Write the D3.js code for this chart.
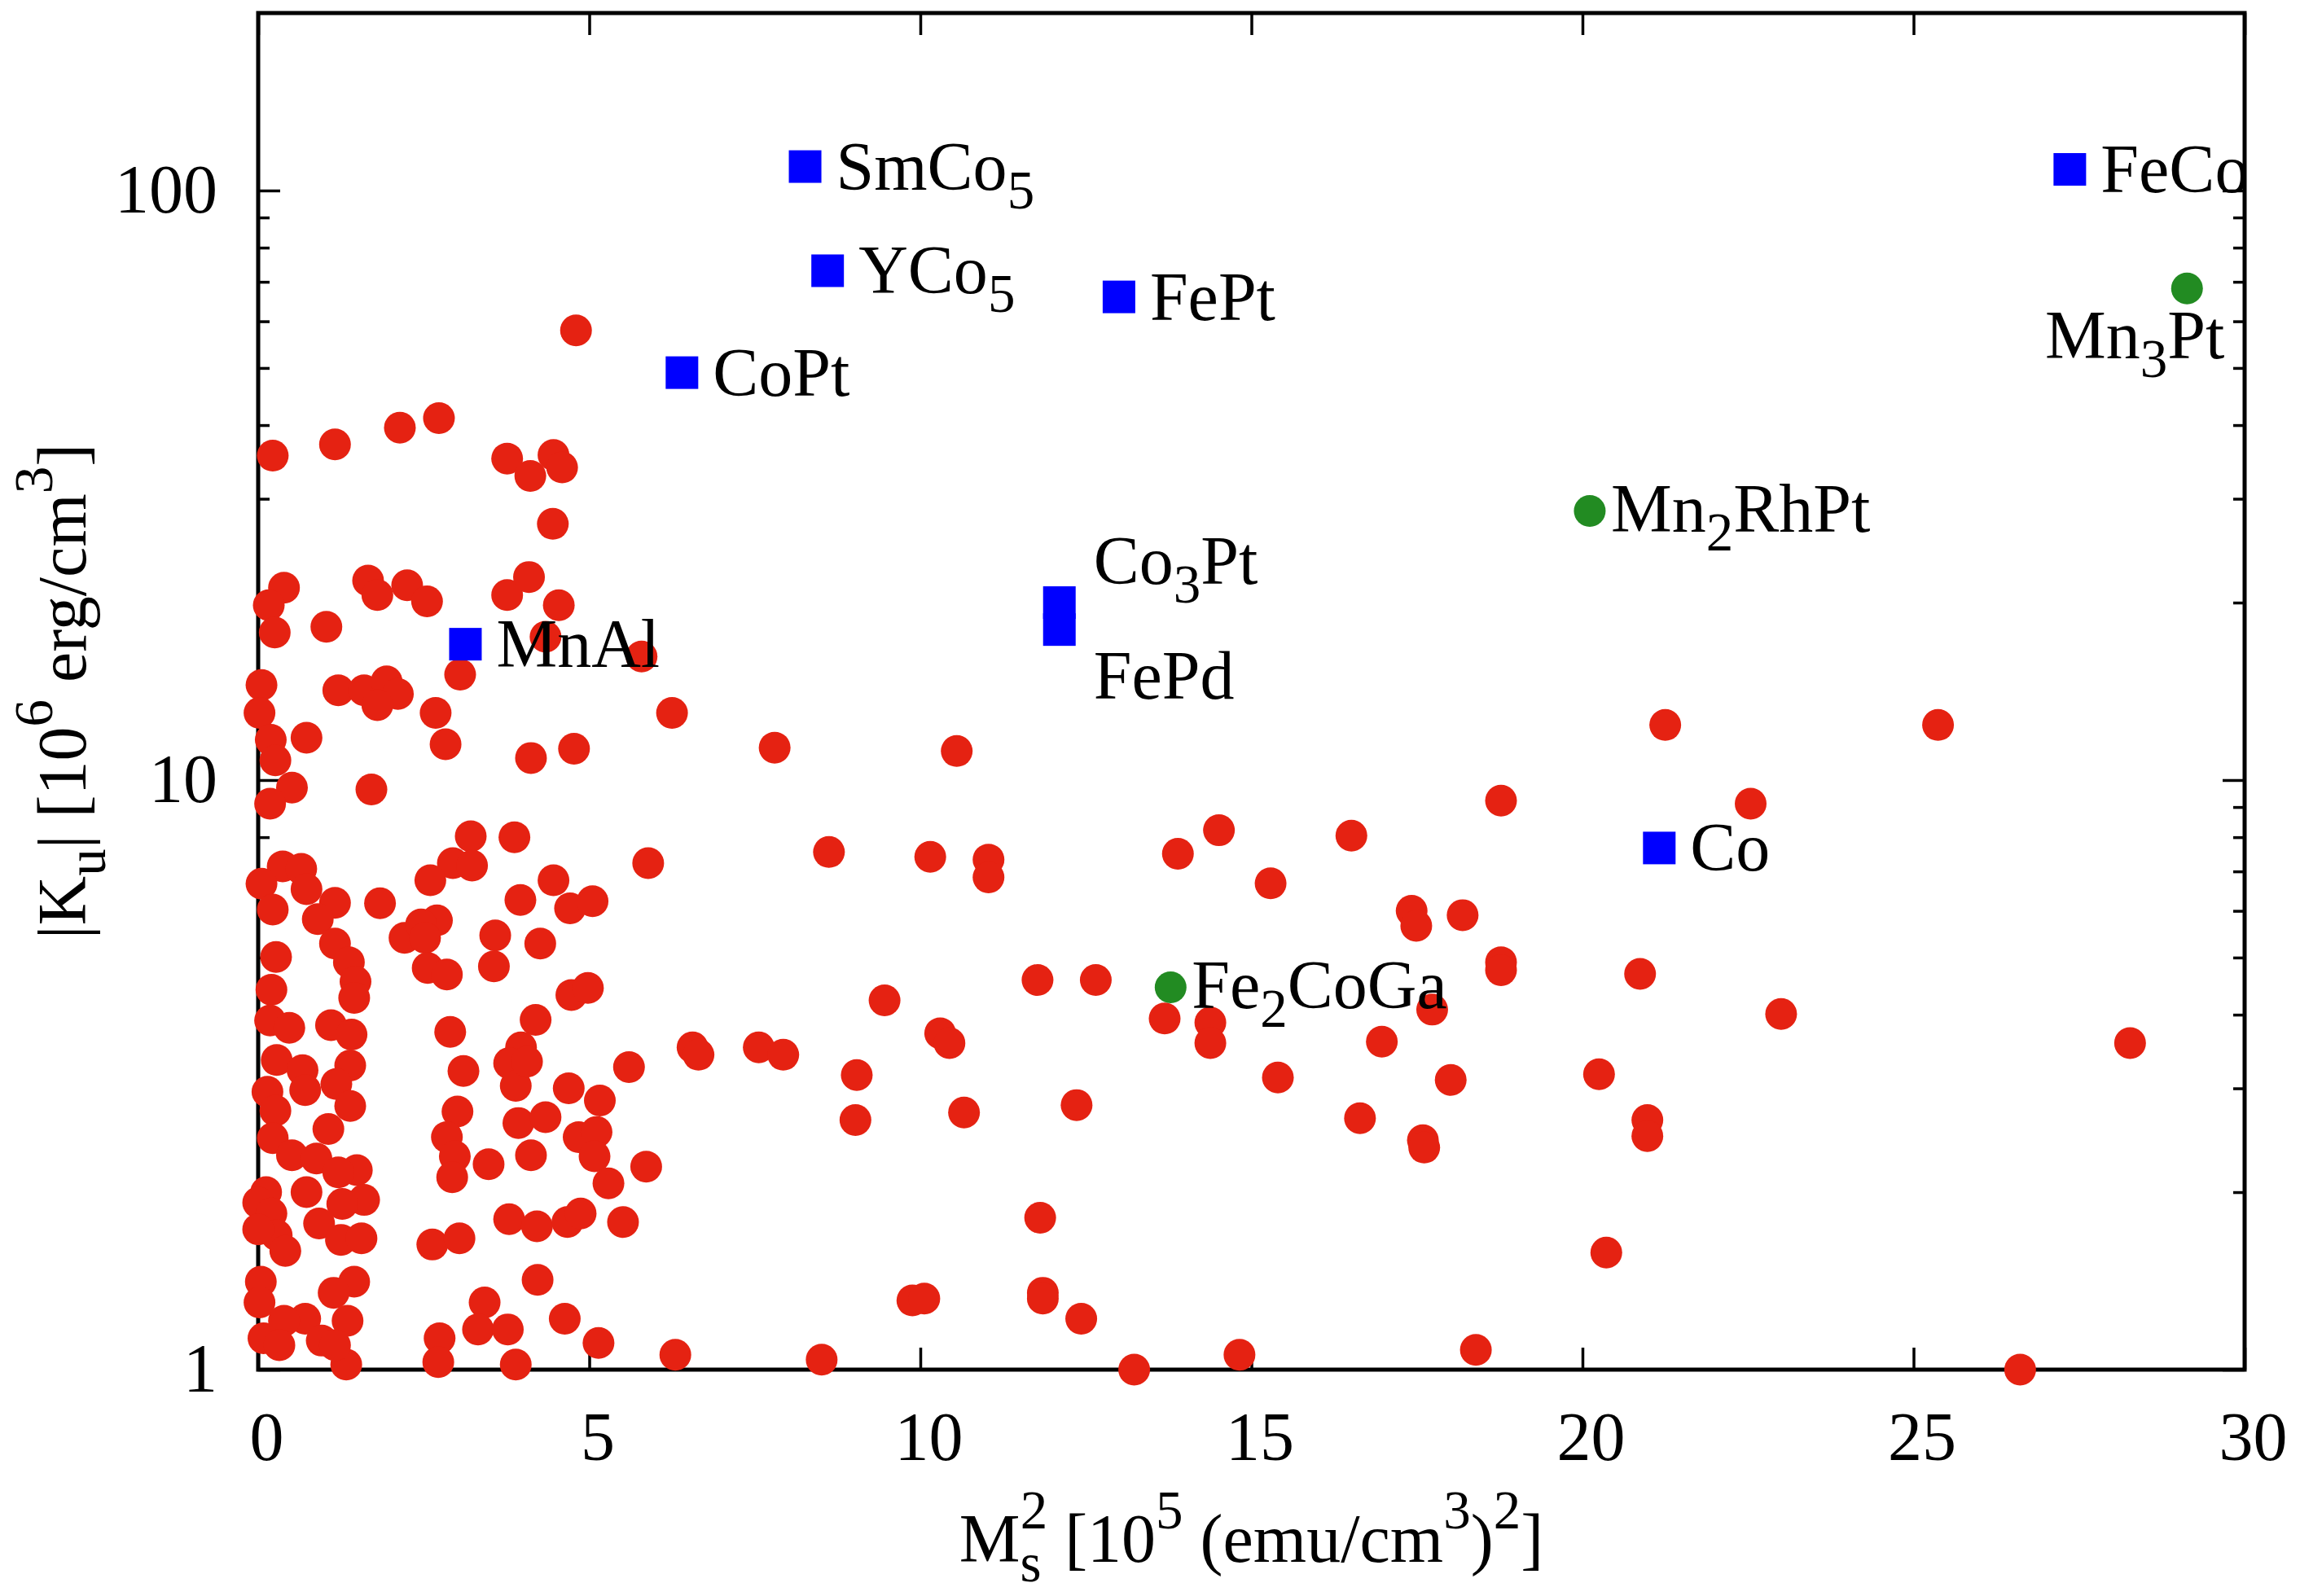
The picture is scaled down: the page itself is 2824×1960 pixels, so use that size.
<!DOCTYPE html>
<html>
<head>
<meta charset="utf-8">
<script src="https://cdn.jsdelivr.net/npm/d3@7"></script>
<style>
html,body{margin:0;padding:0;background:#fff;}
svg{display:block;}
</style>
</head>
<body>
<svg id="chart" width="2824" height="1960"></svg>
<script>
// ---------------- data ----------------
const xTicks = [0, 5, 10, 15, 20, 25, 30];
const yTicks = [1, 10, 100];
const yMinorTicks = [2, 3, 4, 5, 6, 7, 8, 9, 20, 30, 40, 50, 60, 70, 80, 90];

// red: compounds (M_s^2 in 1e5 (emu/cm3)^2, |Ku| in 1e6 erg/cm3)
const redX = [
  0.22,1.16,2.14,2.73,3.76,4.11,4.46,4.59,4.45,0.39,0.16,0.25,1.03,1.66,1.80,2.25,2.55,3.76,4.09,4.54,4.34,5.79,3.05,0.05,1.21,1.60,1.94,2.11,2.68,6.25,4.80,
  0.02,1.80,2.83,0.19,0.73,0.26,0.51,0.18,1.71,4.12,4.77,3.21,3.87,2.94,3.23,2.60,5.89,0.37,0.65,0.05,0.73,0.22,1.16,0.90,1.84,3.96,4.46,4.71,5.05,2.70,2.21,2.46,2.52,1.16,1.37,1.47,1.45,0.27,0.20,3.58,3.56,4.26,2.56,2.85,4.73,4.98,4.19,2.90,3.97,0.18,0.47,1.10,1.41,
  0.28,0.67,1.39,1.18,0.71,0.14,0.26,1.39,1.06,0.22,0.51,0.88,1.49,1.21,0.73,1.60,1.27,0.92,1.25,1.56,0.12,0.0,0.20,0.28,0.41,0.0,0.04,0.02,0.08,1.45,1.14,1.35,0.71,0.39,0.32,0.96,1.33,1.16,
  3.10,3.79,3.89,3.93,4.34,4.69,5.16,5.60,4.84,5.11,5.08,5.29,5.86,4.12,3.01,2.85,2.97,2.93,3.48,3.79,4.21,4.67,4.87,5.51,2.63,3.04,4.22,3.42,3.32,3.77,4.63,5.14,2.74,2.72,3.89,6.30,
  7.80,10.55,8.62,10.15,11.03,11.03,13.89,14.51,15.29,16.51,17.42,17.49,18.19,18.77,18.77,20.87,18.77,22.54,21.25,25.37,11.77,12.65,9.46,10.30,10.44,7.56,7.93,6.56,6.65,9.04,9.02,10.66,12.36,13.69,14.38,14.38,15.40,16.97,17.73,16.64,17.59,17.61,18.01,20.25,20.98,20.98,23.0,28.27,20.36,11.81,9.88,10.06,11.85,11.85,12.43,8.51,13.23,14.82,18.39,26.61,
  4.06
];
const redY = [
  35.5,37.1,39.6,41.1,35.1,32.8,35.6,33.9,27.2,21.2,19.8,17.8,18.2,21.8,20.6,21.4,20.1,20.6,22.1,19.8,17.5,16.2,15.1,14.5,14.2,14.2,14.7,14.0,13.0,13.0,57.9,
  13.0,13.4,11.5,11.7,11.8,10.8,9.71,9.12,9.64,10.9,11.3,8.03,8.0,7.23,7.16,6.76,7.23,7.14,7.07,6.67,6.53,6.03,6.19,5.81,6.18,6.26,6.76,6.06,6.23,5.78,5.40,5.69,5.40,5.28,4.91,4.55,4.27,5.01,4.41,5.45,4.83,5.28,4.80,4.68,4.32,4.44,3.92,3.74,3.52,3.91,3.80,3.84,3.70,
  3.35,3.22,3.28,3.05,2.98,2.96,2.75,2.80,2.56,2.47,2.31,2.28,2.18,2.16,2.00,1.94,1.91,1.77,1.66,1.67,2.00,1.92,1.84,1.69,1.59,1.73,1.41,1.30,1.13,1.41,1.35,1.21,1.22,1.21,1.10,1.12,1.02,1.10,
  3.21,3.31,3.03,2.62,2.68,3.00,2.86,3.26,2.48,2.53,2.30,2.07,2.21,2.31,2.74,2.48,2.30,2.12,2.23,1.80,1.75,1.78,1.84,1.78,1.63,1.67,1.42,1.30,1.17,1.17,1.22,1.11,1.13,1.03,1.02,1.06,
  11.35,11.2,7.55,7.41,7.33,6.84,7.5,8.22,6.68,8.05,6.0,5.66,5.90,4.91,4.76,4.69,9.23,9.12,12.4,12.4,4.58,4.58,4.23,3.72,3.58,3.52,3.42,3.52,3.42,3.16,2.65,2.73,2.81,3.94,3.88,3.58,3.13,3.60,4.08,2.67,2.45,2.38,3.10,3.17,2.65,2.49,4.01,3.58,1.58,1.81,1.31,1.32,1.35,1.32,1.22,1.04,1.0,1.06,1.08,1.0,
  3.33
];

// blue: known permanent-magnet materials
const blueNames = ["SmCo5", "YCo5", "FePt", "CoPt", "MnAl", "Co3Pt", "FePd", "Co", "FeCo"];
const blueX = [8.26, 8.60, 13.0, 6.40, 3.13, 12.10, 12.10, 21.16, 27.36];
const blueY = [109.8, 73.1, 66.0, 49.1, 17.0, 20.0, 18.0, 7.67, 108.6];

// green: Heusler / Mn compounds
const greenNames = ["Fe2CoGa", "Mn2RhPt", "Mn3Pt"];
const greenX = [13.78, 20.11, 29.13];
const greenY = [4.45, 28.6, 68.2];

// ---------------- layout / style ----------------
const FONT = '"Liberation Serif","Times New Roman",Times,serif';
const RED = "#e52212", BLUE = "#0000ff", GREEN = "#228b22";
const FS = 84, FS_SMALL = 67;
const m = {l: 317, r: 2756, t: 16, b: 1682};
const labelLayout = {
  blue:  {dx: 38, dy: 28, anchor: "start"},
  green: {dx: 26, dy: 25, anchor: "start"},
  "Co3Pt": {dx: 42, dy: -23, anchor: "start"},
  "FePd":  {dx: 42, dy: 85, anchor: "start"},
  "Mn3Pt": {dx: 46, dy: 86, anchor: "end"}
};

const svg = d3.select("#chart");
svg.append("rect").attr("width", 2824).attr("height", 1960).attr("fill", "#fff");

const x = d3.scaleLinear().domain([0, 30]).range([m.l, m.r]);
const y = d3.scaleLog().domain([1, 200]).range([m.b, m.t]);

svg.append("defs").append("clipPath").attr("id", "plotclip")
  .append("rect").attr("x", m.l).attr("y", m.t).attr("width", m.r - m.l).attr("height", m.b - m.t);

// frame
svg.append("rect")
  .attr("x", m.l).attr("y", m.t).attr("width", m.r - m.l).attr("height", m.b - m.t)
  .attr("fill", "none").attr("stroke", "#000").attr("stroke-width", 5);

function styleAxis(g) {
  g.select(".domain").remove();
  g.attr("font-family", FONT).attr("font-size", FS);
  g.selectAll(".tick line").attr("stroke", "#000").attr("stroke-width", 3.5);
  g.selectAll(".tick text").attr("fill", "#000");
}

// bottom axis with labels
svg.append("g").attr("transform", `translate(0,${m.b})`)
  .call(d3.axisBottom(x).tickValues(xTicks).tickFormat(d3.format("d")).tickSize(-27).tickSizeOuter(0).tickPadding(51))
  .call(styleAxis)
  .selectAll(".tick text").attr("dx", 10);
// top axis (ticks only)
svg.append("g").attr("transform", `translate(0,${m.t})`)
  .call(d3.axisTop(x).tickValues(xTicks).tickFormat("").tickSize(-27).tickSizeOuter(0))
  .call(styleAxis);
// left axis
svg.append("g").attr("transform", `translate(${m.l},0)`)
  .call(d3.axisLeft(y).tickValues(yTicks).tickFormat(d3.format("d")).tickSize(-27).tickSizeOuter(0).tickPadding(50))
  .call(styleAxis);
svg.append("g").attr("transform", `translate(${m.l},0)`)
  .call(d3.axisLeft(y).tickValues(yMinorTicks).tickFormat("").tickSize(-14).tickSizeOuter(0))
  .call(styleAxis);
// right axis
svg.append("g").attr("transform", `translate(${m.r},0)`)
  .call(d3.axisRight(y).tickValues(yTicks).tickFormat("").tickSize(-27).tickSizeOuter(0))
  .call(styleAxis);
svg.append("g").attr("transform", `translate(${m.r},0)`)
  .call(d3.axisRight(y).tickValues(yMinorTicks).tickFormat("").tickSize(-14).tickSizeOuter(0))
  .call(styleAxis);

// red points
const redData = redX.map((v, i) => ({x: v, y: redY[i]}));
svg.append("g").selectAll("circle").data(redData).join("circle")
  .attr("cx", d => x(d.x)).attr("cy", d => y(d.y)).attr("r", 19.5).attr("fill", RED);

// blue squares
const blueData = blueNames.map((n, i) => ({name: n, x: blueX[i], y: blueY[i]}));
svg.append("g").selectAll("rect").data(blueData).join("rect")
  .attr("x", d => x(d.x) - 20).attr("y", d => y(d.y) - 20)
  .attr("width", 40).attr("height", 40).attr("fill", BLUE);

// green circles
const greenData = greenNames.map((n, i) => ({name: n, x: greenX[i], y: greenY[i]}));
svg.append("g").selectAll("circle").data(greenData).join("circle")
  .attr("cx", d => x(d.x)).attr("cy", d => y(d.y)).attr("r", 19.5).attr("fill", GREEN);

// labels
const labels = svg.append("g").attr("clip-path", "url(#plotclip)")
  .attr("font-family", FONT).attr("font-size", FS).attr("fill", "#000");

function addLabel(d, kind) {
  const off = labelLayout[d.name] || labelLayout[kind];
  const t = labels.append("text")
    .attr("x", x(d.x) + off.dx).attr("y", y(d.y) + off.dy)
    .attr("text-anchor", off.anchor);
  const parts = d.name.match(/\d+|\D+/g);
  let shifted = false;
  parts.forEach(p => {
    const ts = t.append("tspan").text(p);
    if (/\d/.test(p)) { ts.attr("font-size", FS_SMALL).attr("dy", 23); shifted = true; }
    else if (shifted) { ts.attr("dy", -23); shifted = false; }
  });
}
blueData.forEach(d => addLabel(d, "blue"));
greenData.forEach(d => addLabel(d, "green"));

// axis titles
function richText(sel, segs) {
  segs.forEach(s => {
    const ts = sel.append("tspan").text(s[0]).attr("font-size", s[1]);
    if (s[2]) ts.attr("dy", s[2]);
    if (s[3]) ts.attr("dx", s[3]);
  });
}
const xt = svg.append("text")
  .attr("x", (m.l + m.r) / 2).attr("y", 1918)
  .attr("text-anchor", "middle").attr("font-family", FONT).attr("font-size", FS).attr("fill", "#000");
richText(xt, [
  ["M", FS], ["s", FS_SMALL, 24], ["2", FS_SMALL, -65, -26],
  [" [10", FS, 41], ["5", FS_SMALL, -41], [" (emu/cm", FS, 41],
  ["3", FS_SMALL, -41], [")", FS, 41], ["2", FS_SMALL, -41], ["]", FS, 41]
]);

const yt = svg.append("text")
  .attr("transform", `translate(105,${(m.t + m.b) / 2}) rotate(-90)`)
  .attr("text-anchor", "middle").attr("font-family", FONT).attr("font-size", FS).attr("fill", "#000");
richText(yt, [
  ["|K", FS], ["u", FS_SMALL, 24], ["| [10", FS, -24], ["6", FS_SMALL, -41],
  [" erg/cm", FS, 41], ["3", FS_SMALL, -41], ["]", FS, 41]
]);
</script>
</body>
</html>
